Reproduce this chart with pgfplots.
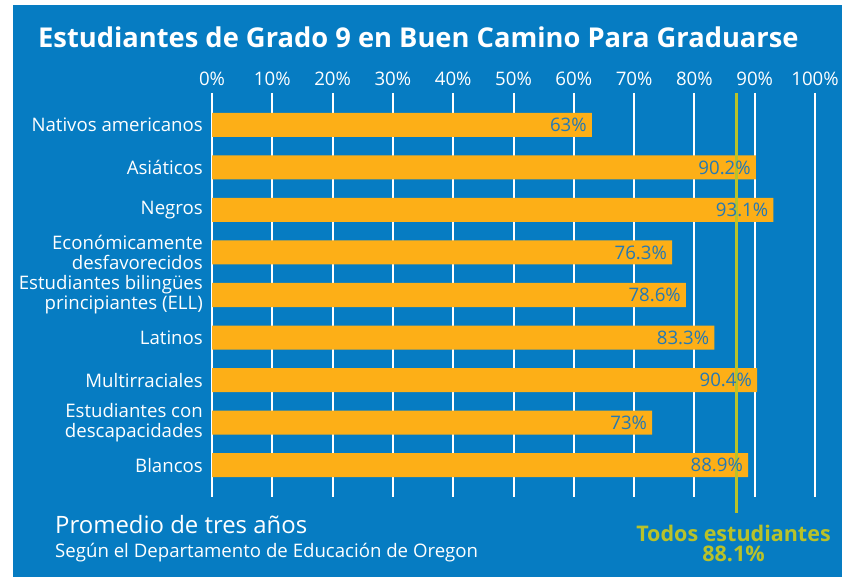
\documentclass[border=0pt]{standalone}
\usepackage{pgfplots}
\pgfplotsset{compat=1.18}
\usepackage{fontspec}
\setmainfont{Open Sans}
\definecolor{bgblue}{HTML}{067CC2}
\definecolor{barorange}{HTML}{FDAF17}
\definecolor{bartext}{HTML}{2479B5}
\definecolor{olivey}{HTML}{B8C22A}
\begin{document}
\begin{tikzpicture}[x=1bp,y=1bp]
\fill[white] (0,0) rectangle (842,577);
\fill[bgblue] (13,0) rectangle (842,572);
\node[anchor=base west, text=white, font=\fontsize{27.4}{30}\selectfont\bfseries, inner sep=0pt] at (38,529) {Estudiantes de Grado 9 en Buen Camino Para Graduarse};
\begin{axis}[
  at={(212bp,80bp)}, anchor=south west,
  scale only axis, width=603bp, height=404bp,
  xmin=0, xmax=100, ymin=-0.75, ymax=8.75,
  y dir=reverse,
  axis line style={draw=none},
  tick style={draw=none},
  xmajorgrids, grid style={white, line width=2bp},
  xtick={0,10,...,100},
  xticklabels={0\%,10\%,20\%,30\%,40\%,50\%,60\%,70\%,80\%,90\%,100\%},
  xticklabel pos=upper,
  xticklabel style={font=\fontsize{18.7}{20}\selectfont, text=white, anchor=south, inner sep=0pt, yshift=7bp},
  ytick={0,...,8},
  yticklabels={Nativos americanos, Asiáticos, Negros, {Económicamente\\desfavorecidos}, {Estudiantes bilingües\\principiantes (ELL)}, Latinos, Multirraciales, {Estudiantes con\\descapacidades}, Blancos},
  yticklabel style={font=\fontsize{18.7}{20}\selectfont, text=white, align=right, anchor=east, inner sep=0pt, xshift=-9bp},
  clip=false,
  /pgf/number format/assume math mode=true,
]
\addplot[xbar, bar width=24bp, bar shift=0pt, fill=barorange, draw=none,
  point meta=explicit symbolic,
  nodes near coords,
  nodes near coords align={horizontal},
  every node near coord/.append style={anchor=east, text=bartext, font=\fontsize{18.7}{20}\selectfont, inner sep=0pt, xshift=-5bp},
] table[meta=label] {
x y label
63 0 63\%
90.2 1 90.2\%
93.1 2 93.1\%
76.3 3 76.3\%
78.6 4 78.6\%
83.3 5 83.3\%
90.4 6 90.4\%
73 7 73\%
88.9 8 88.9\%
};
\addplot[olivey, line width=2.5bp] coordinates {(87,-0.75) (87,9.13)};
\end{axis}
\node[anchor=base west, text=white, font=\fontsize{24}{26}\selectfont, inner sep=0pt] at (55,43) {Promedio de tres años};
\node[anchor=base west, text=white, font=\fontsize{18.7}{20}\selectfont, inner sep=0pt] at (55,19) {Según el Departamento de Educación de Oregon};
\node[anchor=base, text=olivey, font=\fontsize{21.6}{23}\selectfont\bfseries, inner sep=0pt] at (733.5,35) {Todos estudiantes};
\node[anchor=base, text=olivey, font=\fontsize{21.6}{23}\selectfont\bfseries, inner sep=0pt] at (733.5,15) {88.1\%};
\end{tikzpicture}
\end{document}
